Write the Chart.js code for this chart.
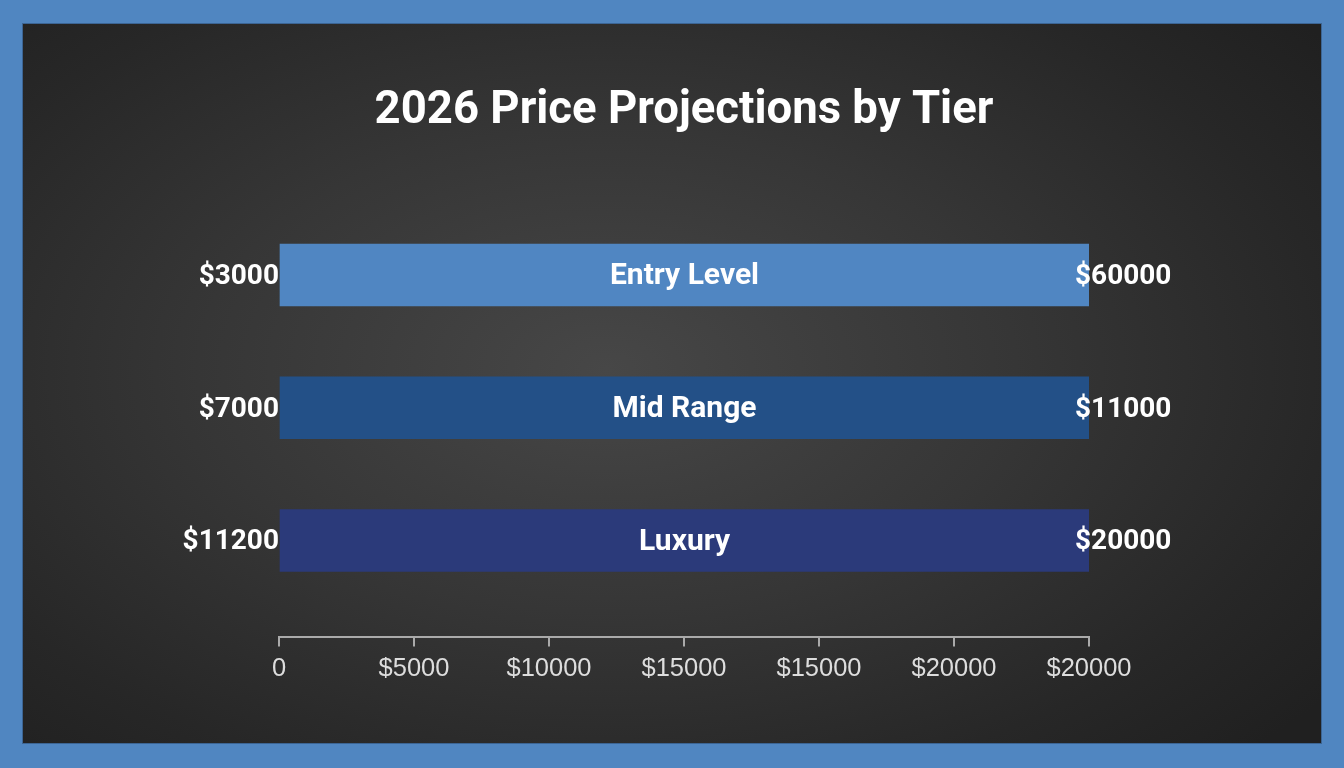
<!DOCTYPE html>
<html>
<head>
<meta charset="utf-8">
<script src="https://cdn.jsdelivr.net/npm/chart.js@4.4.1/dist/chart.umd.min.js"></script>
<style>
  html, body { margin: 0; padding: 0; width: 1344px; height: 768px; overflow: hidden; background: #5086c1; }
  #panel {
    position: absolute; left: 23px; top: 24px; width: 1298px; height: 719px;
    background: radial-gradient(ellipse 70% 75% at 45% 48%, #474747 0%, #363636 45%, #272727 80%, #202020 100%);
    box-shadow: 0 0 0 1px #3c6594;
  }
  #wrap { position: absolute; left: 0; top: 0; width: 1344px; height: 768px; }
</style>
</head>
<body>
<div id="panel"></div>
<div id="wrap"><canvas id="tierChart" width="1344" height="768"></canvas></div>
<script>
'use strict';

// chart data
const tiers = ['Entry Level', 'Mid Range', 'Luxury'];
const lowPrices = [3000, 7000, 11200];
const highPrices = [60000, 11000, 20000];
const tickLabels = ['0', '$5000', '$10000', '$15000', '$15000', '$20000', '$20000'];
const tierColors = ['#5086c2', '#235087', '#2b3a7a'];

const fmt = (v) => '$' + v;

// labels inside / beside each bar
const barLabels = {
  id: 'barLabels',
  afterDatasetsDraw(chart) {
    const ctx = chart.ctx;
    const meta = chart.getDatasetMeta(0);
    ctx.save();
    ctx.fillStyle = '#ffffff';
    ctx.textBaseline = 'middle';
    meta.data.forEach((bar, i) => {
      const left = Math.min(bar.x, bar.base);
      const right = Math.max(bar.x, bar.base);
      const y = bar.y + 2;
      ctx.font = 'bold 30px Roboto';
      ctx.textAlign = 'center';
      ctx.fillText(tiers[i], (left + right) / 2, y);
      ctx.font = 'bold 28px Roboto';
      ctx.textAlign = 'right';
      ctx.fillText(fmt(lowPrices[i]), left - 1, y);
      ctx.textAlign = 'left';
      ctx.fillText(fmt(highPrices[i]), right - 14, y);
    });
    ctx.restore();
  },
};

const last = tickLabels.length - 1;

new Chart(document.getElementById('tierChart').getContext('2d'), {
  type: 'bar',
  data: {
    datasets: [
      {
        data: tiers.map((t, i) => ({ y: i, x: [0, last] })),
        backgroundColor: tierColors,
        borderWidth: 0,
        barThickness: 62,
      },
    ],
  },
  options: {
    indexAxis: 'y',
    responsive: false,
    animation: false,
    layout: { padding: { left: 279, right: 255, top: 0, bottom: 77 } },
    plugins: {
      legend: { display: false },
      tooltip: { enabled: false },
      title: {
        display: true,
        text: '2026 Price Projections by Tier',
        color: '#ffffff',
        font: { family: 'Roboto', size: 45.5, weight: 'bold', lineHeight: 1.2 },
        padding: { top: 84, bottom: 70 },
      },
    },
    scales: {
      x: {
        type: 'linear',
        min: 0,
        max: last,
        afterBuildTicks(scale) {
          scale.ticks = tickLabels.map((_, i) => ({ value: i }));
        },
        ticks: {
          color: '#dddddd',
          font: { family: 'Liberation Sans', size: 25.5 },
          padding: 7,
          autoSkip: false,
          maxRotation: 0,
          callback: (v, i) => tickLabels[i],
        },
        grid: { drawOnChartArea: false, tickLength: 9, color: '#aaaaaa', lineWidth: 2 },
        border: { display: true, color: '#aaaaaa', width: 2 },
      },
      y: {
        type: 'linear',
        reverse: true,
        offset: false,
        bounds: 'data',
        min: -0.5,
        max: 2.73,
        display: false,
      },
    },
  },
  plugins: [barLabels],
});
</script>
</body>
</html>
